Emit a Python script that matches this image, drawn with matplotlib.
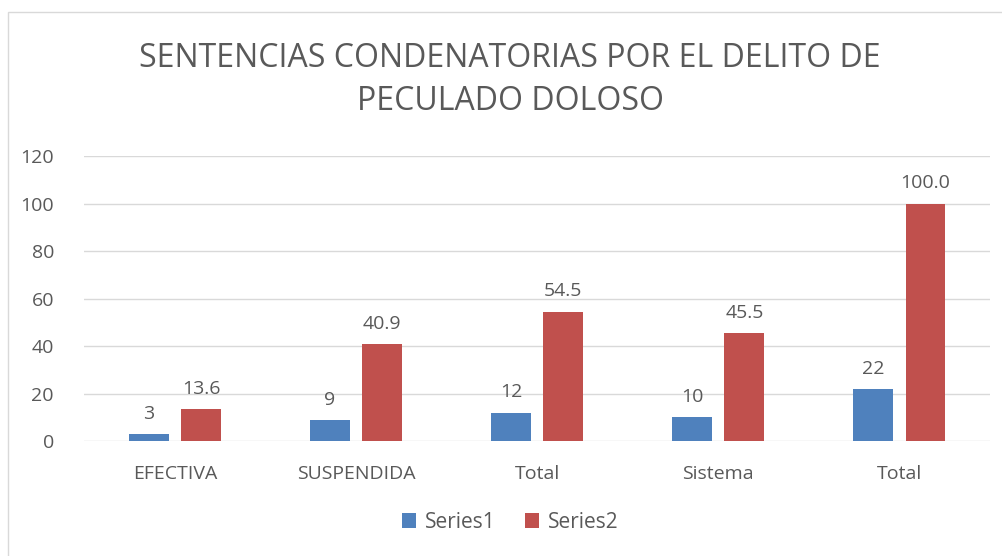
import numpy as np
import matplotlib.pyplot as plt
from matplotlib.patches import Rectangle

categories = ['EFECTIVA', 'SUSPENDIDA', 'Total', 'Sistema', 'Total']
series1 = [3, 9, 12, 10, 22]
series2 = [13.6, 40.9, 54.5, 45.5, 100.0]
yticks = [0, 20, 40, 60, 80, 100, 120]

blue = '#4F81BD'
red = '#C0504D'
txt = '#595959'

plt.rcParams['font.family'] = ['Open Sans', 'DejaVu Sans']

fig = plt.figure(figsize=(10.02, 5.56), dpi=100)
ax = fig.add_axes([0.0843, 0.2068, 0.9037, 0.5126])

# outer chart border
fig.patches.append(Rectangle((8 / 1002, -0.01), 1.1, 1 - 12 / 556 + 0.01,
                             transform=fig.transFigure, fill=False,
                             edgecolor='#D9D9D9', linewidth=1))

x = np.arange(len(categories))
w = 0.22
off = 0.144
b1 = ax.bar(x - off, series1, w, color=blue, label='Series1', zorder=3)
b2 = ax.bar(x + off, series2, w, color=red, label='Series2', zorder=3)

for rect, v in zip(b1, series1):
    ax.annotate(f'{v}', (rect.get_x() + rect.get_width() / 2, v),
                xytext=(0, 8), textcoords='offset points',
                ha='center', va='bottom', fontsize=14, color=txt)
for rect, v in zip(b2, series2):
    ax.annotate(f'{v:.1f}', (rect.get_x() + rect.get_width() / 2, v),
                xytext=(0, 8), textcoords='offset points',
                ha='center', va='bottom', fontsize=14, color=txt)

ax.set_xlim(-0.5, len(categories) - 0.5)
ax.set_ylim(0, 120)
ax.set_yticks(yticks)
ax.set_xticks(x)
ax.set_xticklabels(categories)
ax.tick_params(axis='both', length=0, labelsize=14, labelcolor=txt)
ax.tick_params(axis='x', pad=17)
ax.tick_params(axis='y', pad=22)
ax.grid(axis='y', color='#D9D9D9', linewidth=1, zorder=0)
for s in ax.spines.values():
    s.set_visible(False)

fig.text(0.509, 0.856, 'SENTENCIAS CONDENATORIAS POR EL DELITO DE\nPECULADO DOLOSO',
         ha='center', va='center', fontsize=23, color=txt, linespacing=1.4)

fig.legend(handles=[b1, b2], loc='center', bbox_to_anchor=(0.509, 0.061),
           ncol=2, frameon=False, fontsize=15, labelcolor=txt,
           handlelength=0.7, handleheight=0.7, handletextpad=0.4, columnspacing=1.4)

fig.savefig('out.png', dpi=100)
